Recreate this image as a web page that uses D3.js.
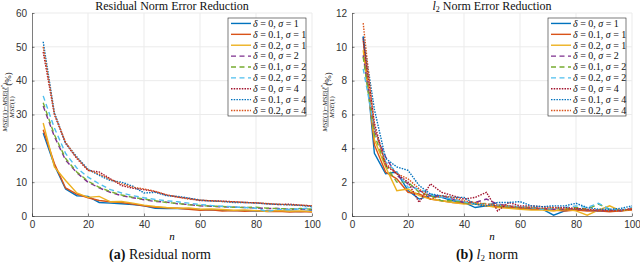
<!DOCTYPE html>
<html>
<head>
<meta charset="utf-8">
<script src="https://cdn.jsdelivr.net/npm/d3@7"></script>
<style>
  body { margin: 0; background: #fff; }
  svg { display: block; }
</style>
</head>
<body>
<div id="plot"></div>
<script>
// Parameters
const svg_w = 640;
const svg_h = 262;

// Data: n = 4, 8, ..., 100
const nValues = [4, 8, 12, 16, 20, 24, 28, 32, 36, 40, 44, 48, 52, 56, 60, 64, 68, 72, 76, 80, 84, 88, 92, 96, 100];

const deltas = ["0", "0.1", "0.2", "0", "0.1", "0.2", "0", "0.1", "0.2"];
const sigmas = ["1", "1", "1", "2", "2", "2", "4", "4", "4"];
const colors = ["#0072BD", "#D95319", "#EDB120", "#7E2F8E", "#77AC30", "#4DBEEE", "#A2142F", "#0072BD", "#D95319"];
const dashes = ["none", "none", "none", "5,3.5", "5,3.5", "5,3.5", "1.5,1.2", "1.5,1.2", "1.5,1.2"];

// Residual norm error reduction (%)
const res_d0_s1 = [24.5, 15, 8, 6, 5.8, 4, 3.8, 3.6, 3.4, 3, 2.3, 2.2, 2.2, 2.1, 1.9, 1.8, 1.7, 1.6, 1.6, 1.5, 1.5, 1.4, 1.4, 1.3, 1.5];
const res_d1_s1 = [25.5, 15.5, 8.3, 6.5, 5.4, 4.6, 4.2, 4.0, 3.5, 3.0, 2.6, 2.4, 2.3, 2.0, 1.7, 1.8, 1.5, 1.6, 1.4, 1.6, 1.3, 1.4, 1.2, 1.3, 1.2];
const res_d2_s1 = [27.5, 14.5, 10.5, 6.8, 5.5, 5.8, 4.2, 4.3, 3.8, 3.2, 2.8, 2.5, 2.3, 2.4, 2.0, 2.1, 1.9, 1.7, 1.8, 1.6, 1.4, 1.6, 1.4, 1.5, 1.3];
const res_d0_s2 = [32.5, 23.5, 16.5, 12.8, 10, 8.3, 7, 6, 5.4, 4.8, 4.3, 4.1, 3.6, 3.4, 3.0, 2.9, 2.7, 2.6, 2.5, 2.4, 2.2, 2.2, 2.0, 2.0, 1.9];
const res_d1_s2 = [33.5, 24, 17, 13, 10.3, 8.5, 7.2, 6.2, 5.5, 5.0, 4.5, 4.0, 3.7, 3.3, 3.1, 2.9, 2.8, 2.6, 2.5, 2.6, 2.3, 2.2, 2.1, 2.2, 2.0];
const res_d2_s2 = [35.5, 26, 18.5, 14.2, 11.5, 9.5, 7.8, 6.8, 6.0, 5.4, 4.9, 4.5, 4.2, 3.8, 3.4, 3.1, 2.9, 2.7, 2.5, 2.3, 1.3, 2.0, 1.9, 2.1, 2.4];
const res_d0_s4 = [48.5, 30, 21.5, 17, 13.5, 13, 11, 9, 8.2, 7.8, 7.2, 6.2, 5.6, 5.2, 4.6, 4.5, 4.4, 4.2, 4.0, 3.9, 3.6, 3.4, 3.5, 3.2, 3.0];
const res_d1_s4 = [51.5, 30.5, 21.5, 17.5, 13.8, 12.0, 10.5, 10.0, 8.8, 6.8, 7.0, 6.0, 5.8, 5.3, 4.7, 4.4, 4.3, 4.0, 4.0, 3.8, 3.6, 3.4, 3.3, 3.1, 2.8];
const res_d2_s4 = [50, 30.2, 21.8, 17.2, 13.6, 12.4, 10.8, 9.5, 8.5, 8.0, 7.3, 6.3, 5.6, 5.0, 4.7, 4.5, 4.3, 4.2, 4.0, 3.9, 3.7, 3.5, 3.3, 3.2, 3.0];

// l2 norm error reduction (%)
const l2_d0_s1 = [10.6, 3.7, 2.5, 2.6, 1.5, 1.0, 1.2, 1.1, 0.9, 0.8, 0.5, 0.6, 0.6, 0.5, 0.5, 0.45, 0.4, 0.05, 0.3, 0.4, 0.35, 0.3, 0.3, 0.35, 0.4];
const l2_d1_s1 = [10.4, 4.2, 2.6, 2.2, 1.4, 1.3, 1.0, 0.9, 0.8, 0.75, 0.7, 0.6, 0.55, 0.5, 0.45, 0.4, 0.4, 0.35, 0.3, 0.35, 0.3, 0.3, 0.25, 0.3, 0.35];
const l2_d2_s1 = [9.8, 4.5, 2.9, 1.5, 1.6, 1.2, 1.0, 0.9, 0.8, 0.7, 0.75, 0.6, 0.5, 0.45, 0.4, 0.35, 0.35, 0.3, 0.4, 0.3, 0.05, 0.35, 0.6, 0.3, 0.4];
const l2_d0_s2 = [9.5, 5.0, 3.5, 2.4, 1.9, 1.5, 1.2, 1.2, 1.0, 0.8, 0.8, 1.0, 0.7, 0.6, 0.5, 0.5, 0.45, 0.4, 0.4, 0.45, 0.35, 0.3, 0.35, 0.3, 0.45];
const l2_d1_s2 = [9.4, 4.8, 3.0, 2.0, 2.0, 1.4, 1.2, 0.9, 0.9, 0.8, 0.7, 0.75, 0.6, 0.55, 0.5, 0.5, 0.4, 0.45, 0.4, 0.5, 0.4, 0.7, 0.4, 0.35, 0.4];
const l2_d2_s2 = [8.7, 5.2, 3.2, 2.6, 1.7, 1.6, 1.3, 1.1, 1.0, 0.85, 0.7, 0.7, 0.65, 0.6, 0.55, 0.5, 0.4, 0.45, 0.5, 0.6, 0.5, 0.75, 0.4, 0.35, 0.5];
const l2_d0_s4 = [10.5, 5.5, 3.0, 2.5, 2.0, 0.8, 1.9, 1.4, 1.2, 1.0, 1.1, 1.4, 0.3, 0.8, 0.6, 0.6, 0.55, 0.5, 0.5, 0.45, 0.4, 0.35, 0.3, 0.35, 0.4];
const l2_d1_s4 = [10.6, 6.3, 3.4, 2.9, 2.7, 1.8, 1.3, 1.2, 1.1, 1.1, 0.7, 0.6, 0.8, 0.8, 0.85, 0.6, 0.55, 0.6, 0.6, 0.75, 0.5, 0.4, 0.4, 0.45, 0.6];
const l2_d2_s4 = [11.4, 5.2, 3.1, 2.5, 2.2, 1.6, 1.0, 1.2, 1.1, 0.9, 0.8, 0.7, 0.65, 0.6, 0.5, 0.5, 0.45, 0.5, 0.4, 0.4, 0.35, 0.35, 0.3, 0.3, 0.45];

const resSeries = [res_d0_s1, res_d1_s1, res_d2_s1, res_d0_s2, res_d1_s2, res_d2_s2, res_d0_s4, res_d1_s4, res_d2_s4];
const l2Series = [l2_d0_s1, l2_d1_s1, l2_d2_s1, l2_d0_s2, l2_d1_s2, l2_d2_s2, l2_d0_s4, l2_d1_s4, l2_d2_s4];

const xTicks = [0, 20, 40, 60, 80, 100];
const resTicks = [0, 10, 20, 30, 40, 50, 60];
const l2Ticks = [0, 2, 4, 6, 8, 10, 12];

const serif = "'Liberation Serif', 'DejaVu Serif', serif";
const sans = "'Liberation Sans', Arial, sans-serif";

const svg = d3.select("div#plot")
  .append("svg")
    .attr("width", svg_w)
    .attr("height", svg_h);

svg.append("rect")
    .attr("width", svg_w)
    .attr("height", svg_h)
    .attr("fill", "white");

function drawPanel(opts) {
  const left = opts.left, top = 13, w = 280, h = 203;
  const g = svg.append("g").attr("transform", `translate(${left},${top})`);

  const xScale = d3.scaleLinear().domain([0, 100]).range([0, w]);
  const yScale = d3.scaleLinear().domain([0, opts.ymax]).range([h, 0]);

  // grid
  g.append("g").selectAll("line.gx")
    .data(xTicks.slice(1))
    .join("line")
      .attr("x1", d => xScale(d)).attr("x2", d => xScale(d))
      .attr("y1", 0).attr("y2", h)
      .attr("stroke", "#ebebeb").attr("stroke-width", 1);
  g.append("g").selectAll("line.gy")
    .data(opts.yTicks.slice(1))
    .join("line")
      .attr("x1", 0).attr("x2", w)
      .attr("y1", d => yScale(d)).attr("y2", d => yScale(d))
      .attr("stroke", "#ebebeb").attr("stroke-width", 1);

  // axes
  const xAxis = d3.axisBottom(xScale).tickValues(xTicks).tickSizeInner(-2.5).tickSizeOuter(0).tickPadding(5);
  const yAxis = d3.axisLeft(yScale).tickValues(opts.yTicks).tickSizeInner(-2.5).tickSizeOuter(0).tickPadding(5);

  const gx = g.append("g").attr("transform", `translate(0,${h})`).call(xAxis);
  const gy = g.append("g").call(yAxis);
  [gx, gy].forEach(a => {
    a.select(".domain").attr("stroke", "#262626").attr("stroke-width", 0.6);
    a.selectAll(".tick line").attr("stroke", "#262626").attr("stroke-width", 0.6);
    a.selectAll("text")
      .attr("fill", "#333")
      .style("font-family", sans)
      .style("font-size", "10px");
  });

  // lines
  const line = d3.line()
    .x((d, i) => xScale(nValues[i]))
    .y(d => yScale(d));

  g.append("g").selectAll("path")
    .data(opts.series)
    .join("path")
      .attr("d", d => line(d))
      .attr("fill", "none")
      .attr("stroke", (d, i) => colors[i])
      .attr("stroke-width", 1.4)
      .attr("stroke-dasharray", (d, i) => dashes[i]);

  // title
  const title = svg.append("text")
      .attr("x", left + w / 2)
      .attr("y", 10)
      .attr("text-anchor", "middle")
      .style("font-family", serif)
      .style("font-size", "12px")
      .attr("fill", "#111");
  opts.title(title);

  // x label
  svg.append("text")
      .attr("x", left + w / 2)
      .attr("y", 240)
      .attr("text-anchor", "middle")
      .style("font-family", serif)
      .style("font-style", "italic")
      .style("font-size", "11px")
      .text("n");

  // caption
  const cap = svg.append("text")
      .attr("x", opts.capX)
      .attr("y", 259)
      .attr("text-anchor", "middle")
      .style("font-family", serif)
      .style("font-size", "14px")
      .attr("fill", "#111");
  opts.caption(cap);

  // y label (rotated fraction)
  const yl = svg.append("g")
      .attr("transform", `translate(${left - 24},${top + 94}) rotate(-90)`)
      .style("font-family", serif)
      .style("font-size", "7px")
      .attr("fill", "#222");
  const num = yl.append("text").attr("x", 0).attr("y", -1.3).attr("text-anchor", "middle");
  num.append("tspan").style("font-style", "italic").text("MSE");
  num.append("tspan").text("(1)\u2212");
  num.append("tspan").style("font-style", "italic").text("MSE");
  num.append("tspan").text("(");
  num.append("tspan").style("font-style", "italic").text("\u2113");
  num.append("tspan").attr("dy", -2.5).style("font-size", "5px").text("*");
  num.append("tspan").attr("dy", 2.5).text(")");
  yl.append("line")
      .attr("x1", -20).attr("x2", 20).attr("y1", 0).attr("y2", 0)
      .attr("stroke", "#222").attr("stroke-width", 0.5);
  const den = yl.append("text").attr("x", 0).attr("y", 6).attr("text-anchor", "middle");
  den.append("tspan").style("font-style", "italic").text("MSE");
  den.append("tspan").text("(1)");
  yl.append("text")
      .attr("x", 28).attr("y", 3.2)
      .attr("text-anchor", "middle")
      .style("font-size", "9px")
      .text("(%)");

  // legend
  const lx = left + 196, ly = 18, lw = 78, lh = 98;
  const leg = svg.append("g").attr("transform", `translate(${lx},${ly})`);
  leg.append("rect")
      .attr("width", lw).attr("height", lh)
      .attr("fill", "white")
      .attr("stroke", "#262626").attr("stroke-width", 0.6);
  const rowH = lh / 9;
  const items = leg.selectAll("g.item")
    .data(d3.range(9))
    .join("g")
      .attr("transform", i => `translate(0,${rowH * (i + 0.5)})`);
  items.append("line")
      .attr("x1", 3).attr("x2", 23)
      .attr("stroke", i => colors[i])
      .attr("stroke-width", 1.4)
      .attr("stroke-dasharray", i => dashes[i]);
  const lt = items.append("text")
      .attr("x", 25).attr("y", 3.3)
      .style("font-family", serif)
      .style("font-size", "10px")
      .attr("fill", "#111");
  lt.append("tspan").style("font-style", "italic").text("\u03b4");
  lt.append("tspan").text(i => " = " + deltas[i] + ", ");
  lt.append("tspan").style("font-style", "italic").text("\u03c3");
  lt.append("tspan").text(i => " = " + sigmas[i]);
}

drawPanel({
  left: 32,
  ymax: 60,
  yTicks: resTicks,
  series: resSeries,
  capX: 160,
  title: t => t.text("Residual Norm Error Reduction"),
  caption: c => {
    c.append("tspan").style("font-weight", "bold").text("(a)");
    c.append("tspan").text(" Residual norm");
  }
});

drawPanel({
  left: 352,
  ymax: 12,
  yTicks: l2Ticks,
  series: l2Series,
  capX: 487,
  title: t => {
    t.append("tspan").style("font-style", "italic").text("l");
    t.append("tspan").attr("dy", 2).style("font-size", "8px").text("2");
    t.append("tspan").attr("dy", -2).text(" Norm Error Reduction");
  },
  caption: c => {
    c.append("tspan").style("font-weight", "bold").text("(b)");
    c.append("tspan").text(" ");
    c.append("tspan").style("font-style", "italic").text("l");
    c.append("tspan").attr("dy", 2).style("font-size", "9px").text("2");
    c.append("tspan").attr("dy", -2).text(" norm");
  }
});
</script>
</body>
</html>
